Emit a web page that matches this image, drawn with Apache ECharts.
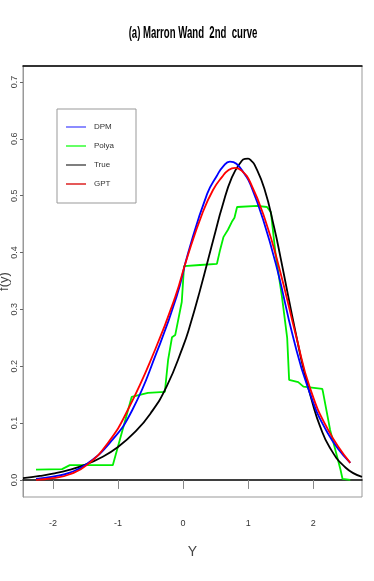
<!DOCTYPE html>
<html>
<head>
<meta charset="utf-8">
<script src="https://cdn.jsdelivr.net/npm/echarts@6/dist/echarts.min.js"></script>
<style>
  html, body { margin: 0; padding: 0; background: #fff; }
  #chart { width: 374px; height: 581px; }
</style>
</head>
<body>
<div id="chart"></div>
<script>
// tick labels
const xTicks = [-2, -1, 0, 1, 2];
const yTicks = [0, 0.1, 0.2, 0.3, 0.4, 0.5, 0.6, 0.7];

// DPM estimate (blue)
const dpmX = [-2.26, -2.0, -1.74, -1.48, -1.12, -0.78, -0.40, -0.10, 0.08, 0.37, 0.52, 0.62, 0.72, 0.82, 0.95, 1.03, 1.23, 1.45, 1.69, 1.92, 2.22, 2.57];
const dpmY = [0.002, 0.006, 0.013, 0.028, 0.066, 0.123, 0.226, 0.322, 0.400, 0.503, 0.535, 0.552, 0.560, 0.556, 0.537, 0.521, 0.458, 0.369, 0.252, 0.162, 0.083, 0.030];

// Polya estimate (green, step like)
const polyaX = [-2.26, -1.86, -1.74, -1.08, -0.79, -0.54, -0.28, -0.23, -0.17, -0.12, -0.02, 0.015, 0.26, 0.52, 0.57, 0.62, 0.69, 0.75, 0.79, 0.83, 1.14, 1.29, 1.35, 1.42, 1.52, 1.60, 1.63, 1.77, 1.85, 2.14, 2.15, 2.26, 2.42, 2.45, 2.57];
const polyaY = [0.018, 0.019, 0.026, 0.026, 0.146, 0.153, 0.155, 0.211, 0.251, 0.255, 0.313, 0.376, 0.378, 0.380, 0.405, 0.427, 0.440, 0.454, 0.461, 0.480, 0.482, 0.480, 0.471, 0.399, 0.322, 0.250, 0.176, 0.172, 0.164, 0.160, 0.155, 0.088, 0.018, 0.002, 0.000];

// true density (black)
const trueX = [-2.46, -2.2, -2.0, -1.75, -1.5, -1.25, -1.0, -0.75, -0.5, -0.25, 0, 0.1, 0.25, 0.5, 0.6, 0.75, 0.9, 0.95, 1.0, 1.05, 1.1, 1.25, 1.4, 1.5, 1.6, 1.75, 1.85, 2.0, 2.1, 2.25, 2.5, 2.75];
const trueY = [0.0033, 0.0071, 0.011, 0.0177, 0.027, 0.040, 0.058, 0.083, 0.117, 0.165, 0.235, 0.269, 0.329, 0.438, 0.480, 0.532, 0.561, 0.5647, 0.565, 0.561, 0.554, 0.512, 0.444, 0.390, 0.3325, 0.248, 0.196, 0.131, 0.096, 0.058, 0.0215, 0.0055];

// GPT estimate (red)
const gptX = [-2.26, -2.0, -1.74, -1.48, -1.15, -0.85, -0.43, -0.12, 0.06, 0.30, 0.46, 0.60, 0.70, 0.80, 0.90, 1.03, 1.26, 1.48, 1.74, 1.95, 2.23, 2.57];
const gptY = [0.000, 0.003, 0.010, 0.026, 0.066, 0.123, 0.229, 0.322, 0.390, 0.470, 0.510, 0.533, 0.545, 0.549, 0.544, 0.524, 0.458, 0.372, 0.252, 0.162, 0.088, 0.030];

const pairs = (xs, ys) => xs.map((x, i) => [x, ys[i]]);

const narrow = '"Liberation Sans Narrow", "Liberation Sans", sans-serif';
const chart = echarts.init(document.getElementById('chart'));

const option = {
  backgroundColor: '#fff',
  animation: false,
  grid: {
    left: 23, right: 12, top: 66, bottom: 84,
    outerBoundsMode: 'none',
    containLabel: false,
    show: true, borderColor: '#999', borderWidth: 1
  },
  graphic: [{
    type: 'text',
    x: 193, y: 34,
    scaleX: 0.6,
    style: {
      text: '(a) Marron Wand  2nd  curve',
      font: 'bold 16px "Liberation Sans", sans-serif',
      fill: '#000',
      align: 'center',
      verticalAlign: 'middle'
    }
  }],
  legend: {
    orient: 'vertical',
    left: 57, top: 109,
    padding: [13, 22, 14, 9],
    itemGap: 9,
    itemWidth: 20,
    itemHeight: 1.5,
    icon: 'rect',
    borderColor: '#999',
    borderWidth: 1,
    borderRadius: 0,
    textStyle: { fontSize: 8, lineHeight: 10, color: '#333', fontFamily: narrow, padding: [0, 0, 0, 3] },
    data: [
      { name: 'DPM', itemStyle: { color: '#6666ff' } },
      { name: 'Polya', itemStyle: { color: '#33ff33' } },
      { name: 'True', itemStyle: { color: '#555' } },
      { name: 'GPT', itemStyle: { color: '#dd2222' } }
    ]
  },
  xAxis: [{
    type: 'value',
    min: -2.46, max: 2.75,
    name: 'Y',
    nameLocation: 'middle',
    nameGap: 48,
    nameMoveOverlap: false,
    nameTextStyle: { fontSize: 14, color: '#444', fontFamily: narrow },
    splitLine: { show: false },
    axisLine: { show: true, lineStyle: { color: '#000', width: 1.5 } },
    axisTick: { show: true, length: 9, customValues: xTicks, lineStyle: { color: '#888' } },
    axisLabel: { customValues: xTicks, margin: 22, fontSize: 9, color: '#333', fontFamily: narrow }
  }, {
    type: 'value',
    position: 'top',
    min: -2.46, max: 2.75,
    splitLine: { show: false },
    axisLine: { show: true, onZero: false, lineStyle: { color: '#000', width: 1.5 } },
    axisTick: { show: false },
    axisLabel: { show: false }
  }],
  yAxis: {
    type: 'value',
    min: -0.03, max: 0.728,
    name: 'f(y)',
    nameLocation: 'middle',
    nameGap: 12,
    nameMoveOverlap: false,
    nameRotate: 90,
    nameTextStyle: { fontSize: 13, color: '#444', fontFamily: narrow },
    splitLine: { show: false },
    axisLine: { show: true, onZero: false, lineStyle: { color: '#999' } },
    axisTick: { show: true, length: 3, customValues: yTicks, lineStyle: { color: '#666' } },
    axisLabel: {
      customValues: yTicks, rotate: 90, margin: 4, fontSize: 9, color: '#444', fontFamily: narrow,
      formatter: v => v.toFixed(1)
    }
  },
  series: [
    {
      name: 'Polya', type: 'line', data: pairs(polyaX, polyaY),
      showSymbol: false, lineStyle: { color: '#00ee00', width: 1.8 }, itemStyle: { color: '#00ee00' }
    },
    {
      name: 'True', type: 'line', data: pairs(trueX, trueY), smooth: 0.5,
      showSymbol: false, lineStyle: { color: '#000', width: 1.8 }, itemStyle: { color: '#000' }
    },
    {
      name: 'DPM', type: 'line', data: pairs(dpmX, dpmY), smooth: 0.5,
      showSymbol: false, lineStyle: { color: '#0000ff', width: 1.8 }, itemStyle: { color: '#0000ff' }
    },
    {
      name: 'GPT', type: 'line', data: pairs(gptX, gptY), smooth: 0.5,
      showSymbol: false, lineStyle: { color: '#ff0000', width: 1.8 }, itemStyle: { color: '#ff0000' }
    }
  ]
};

chart.setOption(option);
</script>
</body>
</html>
